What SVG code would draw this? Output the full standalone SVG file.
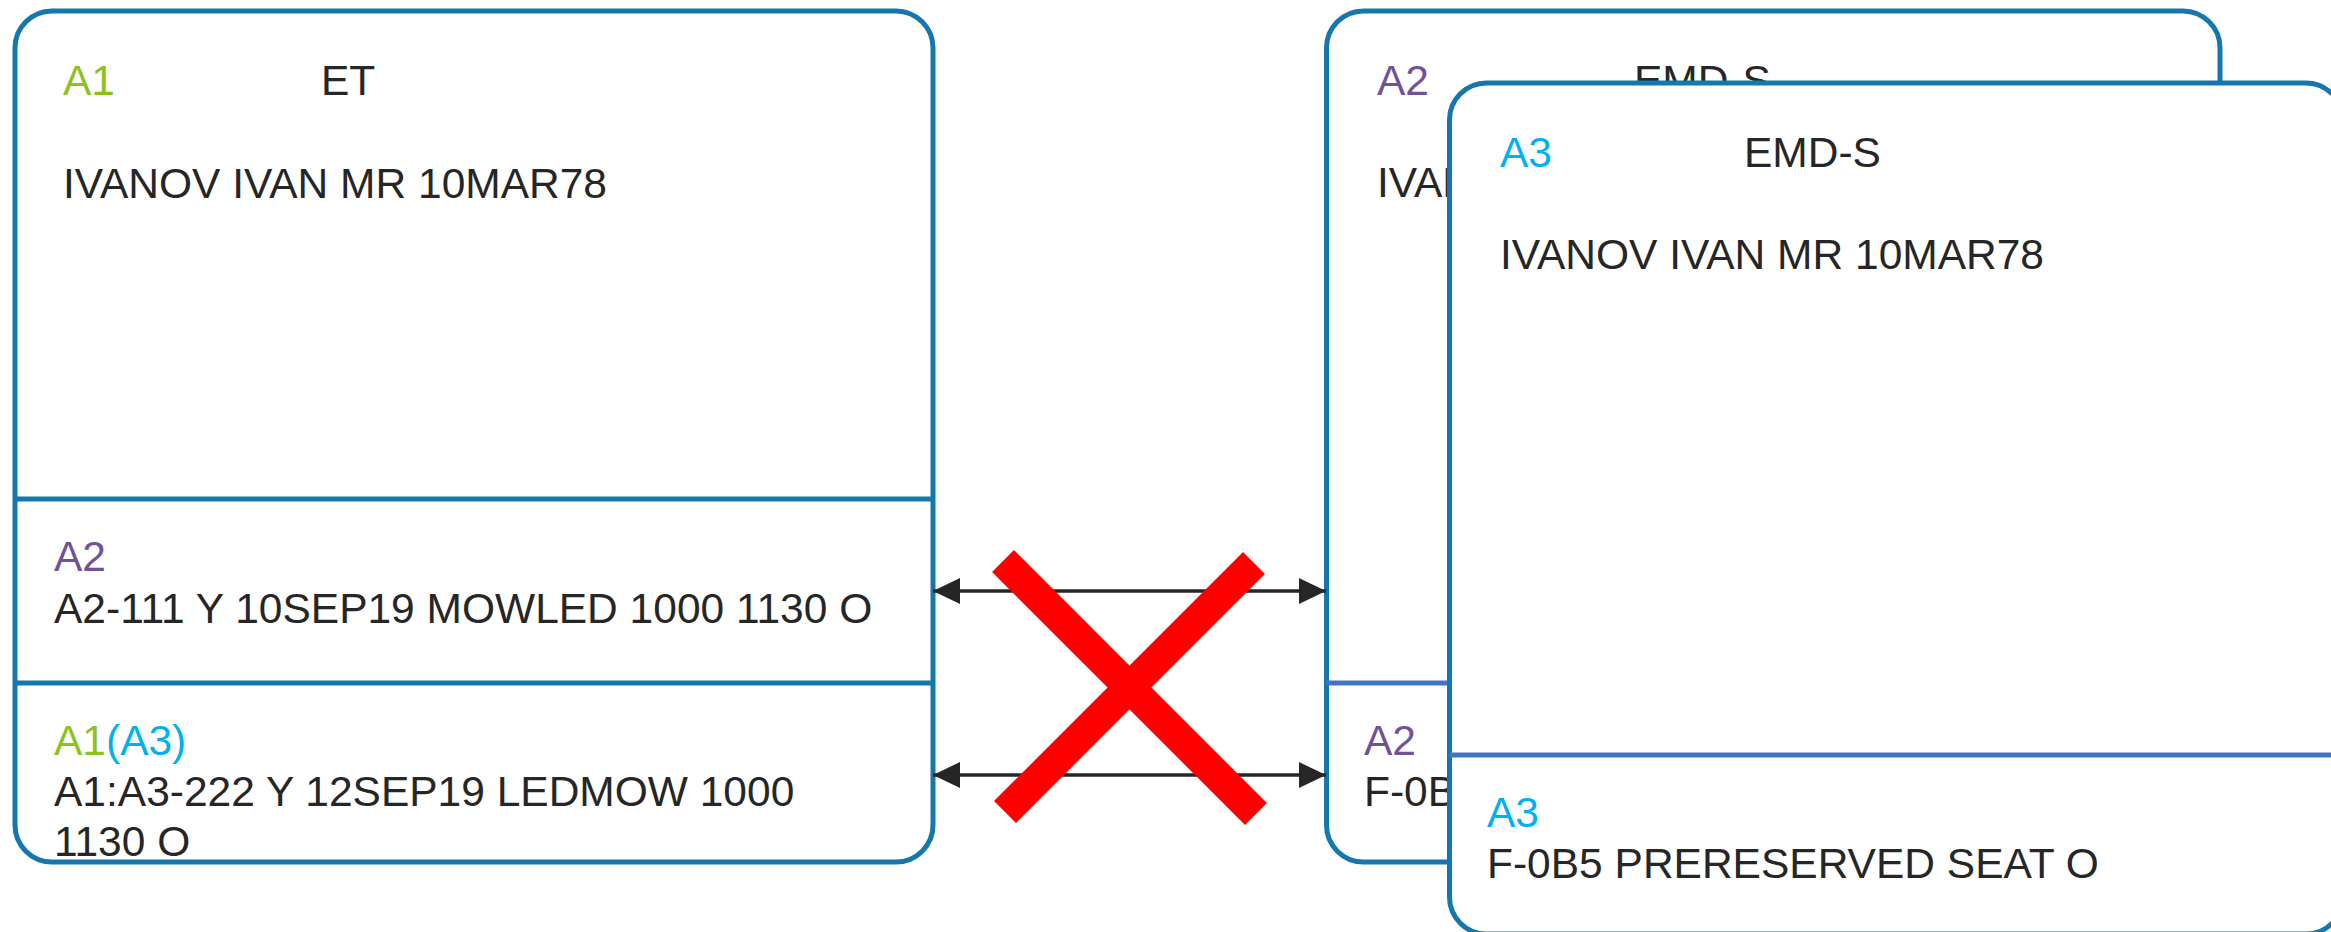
<svg xmlns="http://www.w3.org/2000/svg" width="2331" height="932" viewBox="0 0 2331 932">
<defs>
<style>
text{font-family:"Liberation Sans",Arial,sans-serif;font-size:42.5px;fill:#262626}
.g{fill:#8CC21E}.p{fill:#70519A}.c{fill:#00B0F0}
.box{fill:#fff;stroke:#1577AE;stroke-width:5}
.div1{stroke:#1577AE;stroke-width:5}
.div2{stroke:#4472C4;stroke-width:5}
.arr{stroke:#262626;stroke-width:3.5;fill:none;marker-start:url(#ah);marker-end:url(#ah)}
.x{stroke:#FF0000;stroke-width:31;stroke-linecap:butt}
</style>
<marker id="ah" viewBox="0 0 27 26" refX="27" refY="13" markerWidth="27" markerHeight="26" markerUnits="userSpaceOnUse" orient="auto-start-reverse">
<path d="M0,0 L27,13 L0,26 Z" fill="#262626"/>
</marker>
</defs>
<rect width="2331" height="932" fill="#fff"/>
<g id="et">
<rect class="box" x="15" y="11" width="918" height="851" rx="37" ry="37"/>
<line class="div1" x1="15" y1="499" x2="933" y2="499"/>
<line class="div1" x1="15" y1="683" x2="933" y2="683"/>
<text x="63" y="95" class="g">A1</text>
<text x="321" y="95">ET</text>
<text x="63" y="198">IVANOV IVAN MR 10MAR78</text>
<text x="54" y="571" class="p">A2</text>
<text x="54" y="623">A2-111 Y 10SEP19 MOWLED 1000 1130 O</text>
<text x="54" y="755"><tspan class="g">A1</tspan><tspan class="c">(A3)</tspan></text>
<text x="54" y="806">A1:A3-222 Y 12SEP19 LEDMOW 1000</text>
<text x="54" y="856">1130 O</text>
</g>
<g id="emd-a2">
<rect class="box" x="1326.5" y="11" width="893.5" height="851" rx="37" ry="37"/>
<line class="div2" x1="1326.5" y1="683" x2="2220" y2="683"/>
<text x="1377" y="95" class="p">A2</text>
<text x="1634" y="95">EMD-S</text>
<text x="1377" y="197">IVAN</text>
<text x="1364" y="755" class="p">A2</text>
<text x="1364" y="806">F-0B</text>
</g>
<g id="emd-a3">
<rect class="box" x="1449.5" y="83" width="893.5" height="851" rx="37" ry="37"/>
<line class="div2" x1="1449.5" y1="755" x2="2343" y2="755"/>
<text x="1500" y="167" class="c">A3</text>
<text x="1744" y="167">EMD-S</text>
<text x="1500" y="269">IVANOV IVAN MR 10MAR78</text>
<text x="1487" y="827" class="c">A3</text>
<text x="1487" y="878">F-0B5 PRERESERVED SEAT O</text>
</g>
<g id="connectors">
<line class="arr" x1="933" y1="591" x2="1326" y2="591"/>
<line class="arr" x1="933" y1="775" x2="1326" y2="775"/>
</g>
<g id="cross">
<line class="x" x1="1003" y1="561" x2="1256" y2="814"/>
<line class="x" x1="1254" y1="563" x2="1005" y2="812"/>
</g>
</svg>
